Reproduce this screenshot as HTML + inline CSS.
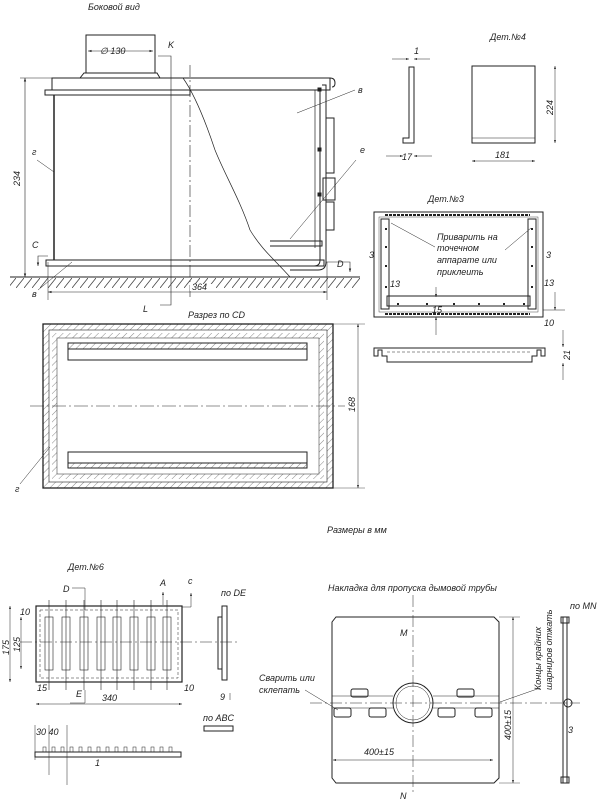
<!DOCTYPE html>
<html><head><meta charset="utf-8"><style>
html,body{margin:0;padding:0;background:#fff}
svg{display:block}
text{font-family:"Liberation Sans",sans-serif;font-style:italic;font-size:9px;fill:#222;stroke:none}
</style></head><body>
<svg width="600" height="804" viewBox="0 0 600 804" xmlns="http://www.w3.org/2000/svg">
<defs>
<pattern id="h" width="5" height="5" patternUnits="userSpaceOnUse" patternTransform="rotate(45)">
<line x1="0" y1="0" x2="0" y2="5" stroke="#555" stroke-width="0.7"/></pattern>
<pattern id="g" x="0" y="278" width="8" height="10" patternUnits="userSpaceOnUse">
<line x1="0" y1="10" x2="8" y2="0" stroke="#444" stroke-width="0.8"/></pattern>
<marker id="a" markerWidth="6" markerHeight="6" refX="6" refY="3" orient="auto-start-reverse"><path d="M0,1 L6,3 L0,5z" fill="#222"/></marker>
</defs>
<g fill="none" stroke="#222" stroke-width="1">
<!-- Side view -->
<text x="88" y="10">Боковой вид</text>
<rect x="86" y="35" width="69" height="38"/>
<path d="M80,78 L84,73 L157,73 L160,78"/>
<line x1="88" y1="51" x2="153" y2="51" marker-start="url(#a)" marker-end="url(#a)" stroke-width="0.6"/>
<text x="100" y="54">∅ 130</text>
<text x="168" y="48">K</text>
<path d="M158,56 L171,56 L171,305 L160,305" stroke-width="0.6"/>
<text x="143" y="312">L</text>
<rect x="52" y="78" width="278" height="12"/>
<path d="M330,78 q5,0 5,5 q0,4 -3,4"/>
<rect x="45" y="90" width="145" height="5"/>
<line x1="54" y1="95" x2="54" y2="260" stroke-width="1.5"/>
<line x1="190" y1="65" x2="190" y2="300" stroke-dasharray="12,3,2,3" stroke-width="0.6"/>
<path d="M183,78 C195,95 205,120 215,150 C225,175 240,200 250,230 C262,250 275,260 290,277" stroke-width="0.7"/>
<line x1="190" y1="90" x2="315" y2="90"/>
<line x1="315" y1="90" x2="315" y2="248" stroke-width="0.7"/>
<path d="M322,85 L326,85 L326,262 q0,8 -8,8 L290,270"/>
<path d="M320,88 L320,260 q0,6 -6,6 L290,266"/>
<rect x="326" y="118" width="8" height="55"/>
<rect x="323" y="178" width="12" height="22"/>
<rect x="326" y="202" width="8" height="28"/>
<rect x="318" y="88" width="3" height="3" fill="#222"/>
<rect x="318" y="148" width="3" height="3" fill="#222"/>
<rect x="318" y="193" width="3" height="3" fill="#222"/>
<path d="M270,241 L322,241 L322,246 L270,246"/>
<rect x="46" y="260" width="278" height="6"/>
<line x1="10" y1="277" x2="360" y2="277"/>
<rect x="10" y="278" width="350" height="10" fill="url(#g)" stroke="none"/>
<line x1="25" y1="78" x2="25" y2="277" marker-start="url(#a)" marker-end="url(#a)" stroke-width="0.6"/>
<line x1="20" y1="78" x2="52" y2="78" stroke-width="0.5"/>
<text transform="translate(20,186) rotate(-90)">234</text>
<line x1="48" y1="292" x2="327" y2="292" marker-start="url(#a)" marker-end="url(#a)" stroke-width="0.6"/>
<line x1="48" y1="262" x2="48" y2="300" stroke-width="0.5"/><line x1="327" y1="262" x2="327" y2="300" stroke-width="0.5"/>
<rect x="190" y="284" width="22" height="7" fill="#fff" stroke="none"/>
<text x="192" y="290">364</text>
<text x="32" y="248">C</text>
<path d="M48,256 L38,256 L38,266" marker-end="url(#a)" stroke-width="0.6"/>
<text x="337" y="267">D</text>
<path d="M326,262 L350,262 L350,272" marker-end="url(#a)" stroke-width="0.6"/>
<text x="32" y="297">в</text><line x1="38" y1="290" x2="72" y2="262" stroke-width="0.5"/>
<text x="32" y="155">г</text><line x1="37" y1="160" x2="54" y2="172" stroke-width="0.5"/>
<text x="358" y="93">в</text><line x1="297" y1="113" x2="355" y2="90" stroke-width="0.5"/>
<text x="360" y="153">е</text><line x1="290" y1="239" x2="356" y2="160" stroke-width="0.5"/>

<!-- Det 4 -->
<text x="490" y="40">Дет.№4</text>
<path d="M409,67 L414,67 L414,143 L403,143 L403,138 L409,138 Z"/>
<line x1="392" y1="59" x2="409" y2="59" marker-end="url(#a)" stroke-width="0.5"/><line x1="430" y1="59" x2="414" y2="59" marker-end="url(#a)" stroke-width="0.5"/>
<text x="414" y="54">1</text>
<line x1="386" y1="156" x2="403" y2="156" marker-end="url(#a)" stroke-width="0.5"/><line x1="432" y1="156" x2="414" y2="156" marker-end="url(#a)" stroke-width="0.5"/>
<text x="402" y="160">17</text>
<rect x="472" y="66" width="63" height="77"/>
<line x1="472" y1="138" x2="535" y2="138" stroke-width="0.5"/>
<line x1="555" y1="66" x2="555" y2="143" marker-start="url(#a)" marker-end="url(#a)" stroke-width="0.5"/>
<text transform="translate(553,115) rotate(-90)">224</text>
<line x1="472" y1="161" x2="535" y2="161" marker-start="url(#a)" marker-end="url(#a)" stroke-width="0.5"/>
<text x="495" y="158">181</text>

<!-- Det 3 -->
<text x="428" y="202">Дет.№3</text>
<rect x="374" y="212" width="169" height="105"/>
<rect x="379" y="217" width="159" height="95" stroke-width="0.4"/>
<line x1="385" y1="215" x2="530" y2="215" stroke-dasharray="3,1" stroke-width="2"/>
<line x1="385" y1="314" x2="530" y2="314" stroke-dasharray="3,1" stroke-width="2"/>
<rect x="381" y="219" width="8" height="90"/><rect x="528" y="219" width="8" height="90"/>
<rect x="387" y="296" width="143" height="10"/>
<g fill="#222" stroke="none">
<rect x="385" y="228" width="2" height="2"/><rect x="385" y="246" width="2" height="2"/><rect x="385" y="265" width="2" height="2"/><rect x="385" y="286" width="2" height="2"/>
<rect x="531" y="228" width="2" height="2"/><rect x="531" y="246" width="2" height="2"/><rect x="531" y="265" width="2" height="2"/><rect x="531" y="286" width="2" height="2"/>
<rect x="397" y="303" width="2" height="2"/><rect x="426" y="303" width="2" height="2"/><rect x="453" y="303" width="2" height="2"/><rect x="478" y="303" width="2" height="2"/><rect x="503" y="303" width="2" height="2"/><rect x="523" y="303" width="2" height="2"/>
</g>
<text x="437" y="240">Приварить на</text>
<text x="437" y="251">точечном</text>
<text x="437" y="263">аппарате или</text>
<text x="437" y="275">приклеить</text>
<line x1="391" y1="223" x2="435" y2="247" stroke-width="0.5"/><line x1="531" y1="228" x2="505" y2="250" stroke-width="0.5"/>
<text x="369" y="258">3</text><text x="546" y="258">3</text>
<text x="390" y="287">13</text><text x="544" y="286">13</text>
<text x="432" y="313">15</text><text x="544" y="326">10</text>
<line x1="436" y1="287" x2="436" y2="297" marker-end="url(#a)" stroke-width="0.5"/>
<line x1="436" y1="335" x2="436" y2="317" marker-end="url(#a)" stroke-width="0.5"/>
<line x1="555" y1="292" x2="555" y2="310" marker-end="url(#a)" stroke-width="0.5"/>
<line x1="543" y1="310" x2="565" y2="310" stroke-width="0.5"/>
<path d="M374,348 L374,356 L378,356 L378,350 L382,350 L382,356 L387,356 L387,362 L532,362 L532,356 L537,356 L537,350 L541,350 L541,356 L545,356 L545,348 Z"/>
<line x1="387" y1="352" x2="532" y2="352" stroke-dasharray="3,2" stroke-width="0.5"/>
<line x1="563" y1="330" x2="563" y2="347" marker-end="url(#a)" stroke-width="0.5"/>
<line x1="563" y1="380" x2="563" y2="363" marker-end="url(#a)" stroke-width="0.5"/>
<text transform="translate(570,360) rotate(-90)">21</text>

<!-- Section CD -->
<text x="188" y="318">Разрез по CD</text>
<rect x="43" y="324" width="290" height="164" fill="url(#h)" stroke-width="1.3"/>
<rect x="49" y="330" width="278" height="152" fill="#fff" stroke-width="0.6"/>
<rect x="52" y="333" width="272" height="146" fill="url(#h)" stroke="none"/>
<rect x="57" y="338" width="262" height="136" fill="#fff" stroke-width="0.5"/>
<rect x="68" y="343" width="239" height="6" fill="url(#h)"/>
<rect x="68" y="349" width="239" height="11" fill="#fff"/>
<rect x="68" y="452" width="239" height="11" fill="#fff"/>
<rect x="68" y="463" width="239" height="5" fill="url(#h)"/>
<line x1="30" y1="406" x2="345" y2="406" stroke-dasharray="14,3,2,3" stroke-width="0.5"/>
<line x1="358" y1="324" x2="358" y2="488" marker-start="url(#a)" marker-end="url(#a)" stroke-width="0.5"/>
<line x1="333" y1="324" x2="365" y2="324" stroke-width="0.4"/><line x1="333" y1="488" x2="365" y2="488" stroke-width="0.4"/>
<text transform="translate(355,412) rotate(-90)">168</text>
<text x="15" y="492">г</text><line x1="20" y1="484" x2="50" y2="447" stroke-width="0.5"/>

<text x="327" y="533">Размеры в мм</text>

<!-- Det 6 -->
<text x="68" y="570">Дет.№6</text>
<rect x="36" y="606" width="146" height="76" stroke-width="1.2"/>
<rect x="40" y="610" width="138" height="68" stroke-dasharray="3,2" stroke-width="0.5"/>
<g stroke-width="0.6">
<rect x="45" y="617" width="8" height="53"/><rect x="62" y="617" width="8" height="53"/><rect x="80" y="617" width="8" height="53"/><rect x="97" y="617" width="8" height="53"/>
<rect x="113" y="617" width="8" height="53"/><rect x="130" y="617" width="8" height="53"/><rect x="147" y="617" width="8" height="53"/><rect x="163" y="617" width="8" height="53"/>
<line x1="49" y1="600" x2="49" y2="690"/><line x1="66" y1="600" x2="66" y2="690"/><line x1="84" y1="600" x2="84" y2="690"/><line x1="101" y1="600" x2="101" y2="690"/>
<line x1="117" y1="600" x2="117" y2="690"/><line x1="134" y1="600" x2="134" y2="690"/><line x1="151" y1="600" x2="151" y2="690"/><line x1="167" y1="600" x2="167" y2="690"/>
</g>
<line x1="20" y1="642" x2="240" y2="642" stroke-dasharray="12,3,2,3" stroke-width="0.5"/>
<line x1="10" y1="606" x2="10" y2="682" marker-start="url(#a)" marker-end="url(#a)" stroke-width="0.5"/>
<text transform="translate(9,655) rotate(-90)">175</text>
<line x1="21" y1="617" x2="21" y2="669" marker-start="url(#a)" marker-end="url(#a)" stroke-width="0.5"/>
<text transform="translate(20,652) rotate(-90)">125</text>
<text x="20" y="615">10</text>
<text x="63" y="592">D</text><path d="M72,588 L85,588 L85,610" stroke-width="0.5"/>
<text x="160" y="586">A</text><line x1="163" y1="605" x2="163" y2="592" marker-end="url(#a)" stroke-width="0.5"/>
<text x="188" y="584">с</text><path d="M182,607 L191,607 L191,593" marker-end="url(#a)" stroke-width="0.5"/>
<text x="37" y="691">15</text>
<text x="76" y="697">E</text><path d="M70,703 L85,703 L85,690" stroke-width="0.5"/>
<text x="184" y="691">10</text>
<line x1="36" y1="704" x2="182" y2="704" marker-start="url(#a)" marker-end="url(#a)" stroke-width="0.5"/>
<text x="102" y="701">340</text>
<text x="221" y="596">по  DE</text>
<rect x="222" y="606" width="5" height="74"/><rect x="218" y="617" width="4" height="52"/>
<line x1="230" y1="693" x2="230" y2="700" stroke-width="0.5"/>
<text x="220" y="700">9</text>
<text x="203" y="721">по ABC</text>
<rect x="204" y="726" width="29" height="5"/>
<text x="36" y="735">30 40</text>
<path d="M35,752 L181,752 L181,757 L35,757 Z"/>
<g stroke-width="0.5">
<rect x="43" y="747" width="3" height="5"/><rect x="52" y="747" width="3" height="5"/><rect x="61" y="747" width="3" height="5"/><rect x="70" y="747" width="3" height="5"/><rect x="79" y="747" width="3" height="5"/><rect x="88" y="747" width="3" height="5"/><rect x="97" y="747" width="3" height="5"/><rect x="106" y="747" width="3" height="5"/><rect x="115" y="747" width="3" height="5"/><rect x="124" y="747" width="3" height="5"/><rect x="133" y="747" width="3" height="5"/><rect x="142" y="747" width="3" height="5"/><rect x="151" y="747" width="3" height="5"/><rect x="160" y="747" width="3" height="5"/><rect x="169" y="747" width="3" height="5"/>
<line x1="35" y1="725" x2="35" y2="760"/><line x1="49" y1="725" x2="49" y2="775"/><line x1="67" y1="725" x2="67" y2="785"/>
</g>
<text x="95" y="766">1</text>

<!-- Nakladka -->
<text x="328" y="591">Накладка для пропуска дымовой трубы</text>
<path d="M332,622 L336,617 L494,617 L499,622 L499,778 L494,783 L336,783 L332,778 Z"/>
<line x1="413" y1="595" x2="413" y2="795" stroke-dasharray="12,3,2,3" stroke-width="0.5"/>
<line x1="310" y1="703" x2="580" y2="703" stroke-dasharray="12,3,2,3" stroke-width="0.5"/>
<circle cx="413" cy="703" r="20"/><circle cx="413" cy="703" r="17" stroke-width="0.5"/>
<path d="M332,696 L393,696 M433,696 L499,696" stroke-width="0.6"/>
<path d="M332,708 L393,708 M433,708 L499,708" stroke-width="0.6"/>
<rect x="351" y="689" width="17" height="8" rx="2"/><rect x="457" y="689" width="17" height="8" rx="2"/>
<rect x="334" y="708" width="17" height="9" rx="2"/><rect x="369" y="708" width="17" height="9" rx="2"/>
<rect x="438" y="708" width="17" height="9" rx="2"/><rect x="475" y="708" width="17" height="9" rx="2"/>
<text x="400" y="636">M</text>
<text x="400" y="799">N</text>
<text x="259" y="681">Сварить или</text>
<text x="259" y="693">склепать</text>
<line x1="305" y1="690" x2="338" y2="710" stroke-width="0.5"/>
<line x1="333" y1="760" x2="493" y2="760" marker-start="url(#a)" marker-end="url(#a)" stroke-width="0.5"/>
<text x="364" y="755">400±15</text>
<line x1="513" y1="617" x2="513" y2="783" marker-start="url(#a)" marker-end="url(#a)" stroke-width="0.5"/>
<line x1="499" y1="617" x2="520" y2="617" stroke-width="0.4"/><line x1="499" y1="783" x2="520" y2="783" stroke-width="0.4"/>
<text transform="translate(511,740) rotate(-90)">400±15</text>
<text transform="translate(541,690) rotate(-90)">Концы крайних</text>
<text transform="translate(552,690) rotate(-90)">шарниров отжать</text>
<line x1="500" y1="702" x2="540" y2="688" stroke-width="0.5"/>
<text x="570" y="609">по MN</text>
<rect x="563" y="617" width="4" height="166"/>
<rect x="561" y="617" width="8" height="6"/><rect x="561" y="777" width="8" height="6"/>
<circle cx="568" cy="703" r="4"/>
<text x="568" y="733">3</text>
</g>
</svg>
</body></html>
